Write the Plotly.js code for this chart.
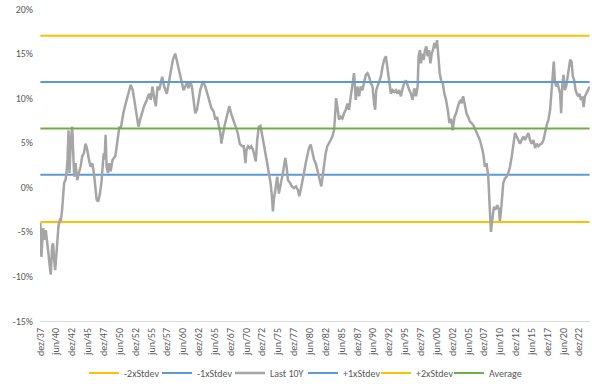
<!DOCTYPE html>
<html>
<head>
<meta charset="utf-8">
<script src="https://cdn.plot.ly/plotly-3.0.1.min.js"></script>
<style>html,body{margin:0;padding:0;background:#fff;}#chart{width:600px;height:387px;}</style>
</head>
<body>
<div id="chart"></div>
<script>
// Time in decimal years (month positions)
const years = [
1937.92,1938.08,1938.35,1938.61,1938.77,1938.98,1939.19,1939.40,1939.56,1939.77,1939.93,1940.09,1940.25,1940.46,1940.61,1940.77,1940.98,
1941.14,1941.35,1941.51,1941.67,1941.88,1942.04,1942.20,1942.36,1942.51,1942.73,1942.94,1943.09,1943.25,1943.46,1943.73,1943.99,
1944.26,1944.52,1944.78,1945.05,1945.31,1945.58,1945.84,1946.10,1946.37,1946.58,1946.79,1947.05,1947.32,1947.58,1947.74,1947.90,
1948.05,1948.21,1948.37,1948.58,1948.79,1949.00,1949.32,1949.74,1949.96,1950.17,1950.38,1950.59,1950.80,1951.01,1951.27,1951.54,
1951.80,1952.17,1952.49,1952.75,1953.02,1953.39,1953.65,1953.91,1954.28,1954.70,1955.07,1955.34,1955.60,1955.87,1956.13,1956.39,
1956.66,1957.13,1957.45,1957.87,1958.29,1958.56,1958.82,1959.19,1959.56,1960.09,
1960.24,1960.51,1960.77,1961.03,1961.30,1961.56,1961.82,1962.09,1962.35,1962.62,1962.88,1963.14,1963.57,1963.94,1964.30,1964.57,
1964.89,1965.25,1965.52,1965.78,1966.05,1966.31,1966.47,1966.68,1966.94,1967.21,1967.47,1967.73,1968.00,1968.32,1968.69,1969.05,
1969.37,1969.74,1970.00,1970.27,1970.43,1970.69,1970.95,1971.17,1971.48,1971.69,1971.90,1972.12,1972.38,1972.64,1972.91,1973.17,
1973.43,1973.70,1973.96,1974.23,1974.44,1974.60,1974.75,1975.02,1975.28,1975.54,1975.81,1976.07,1976.34,1976.55,1976.76,1976.97,
1977.29,1977.60,1977.92,1978.24,1978.55,1978.76,1978.98,1979.24,1979.50,1979.77,1980.03,1980.29,1980.56,1980.82,1981.09,1981.35,
1981.61,1981.88,1982.14,
1982.23,1982.44,1982.66,1982.92,1983.18,1983.45,1983.71,1983.97,1984.24,1984.40,1984.56,1984.77,1985.03,1985.29,1985.56,1985.82,
1986.09,1986.35,1986.61,1986.88,1987.14,1987.40,1987.67,1987.93,1988.20,1988.46,1988.72,1988.99,1989.25,1989.52,1989.78,1990.04,
1990.31,1990.57,1990.73,1990.89,1991.10,1991.36,1991.63,1991.89,1992.15,1992.42,1992.68,1992.95,1993.21,1993.47,1993.74,1994.00,
1994.27,1994.53,1994.79,1995.06,1995.32,1995.58,1995.85,1996.11,1996.38,1996.64,1996.90,1997.17,1997.43,1997.59,1997.80,1997.96,
1998.17,1998.38,1998.59,1998.80,1999.01,1999.23,1999.44,1999.65,1999.86,2000.07,2000.33,2000.49,2000.70,2000.91,2001.13,2001.39,
2001.65,2001.92,2002.18,2002.44,2002.71,2002.97,2003.24,2003.50,2003.76,2004.03,2004.29,
2004.35,2004.61,2004.87,2005.14,2005.40,2005.66,2005.93,2006.19,2006.46,2006.72,2006.98,2007.25,2007.51,2007.78,2008.04,2008.30,
2008.57,2008.72,2008.88,2008.99,2009.20,2009.46,2009.73,2009.99,2010.26,2010.41,2010.68,2010.94,2011.21,2011.47,2011.73,2012.00,
2012.26,2012.52,2012.79,2013.05,2013.32,2013.58,2013.84,2014.11,2014.37,2014.64,2014.90,2015.16,2015.43,2015.69,2015.96,2016.22,
2016.48,2016.75,2017.01,2017.28,2017.54,2017.80,2018.07,2018.33,2018.49,2018.65,2018.80,2018.91,2019.07,2019.28,2019.49,2019.70,
2019.91,2020.07,2020.23,2020.44,2020.65,2020.86,2021.07,2021.28,2021.50,2021.71,2021.92,2022.13,2022.34,2022.55,2022.76,2022.97,
2023.18,2023.40,2023.61,2023.82,2024.03,2024.24,2024.56
];

// "Last 10Y" values, in percent
const last10Y = [
-4.0,-7.8,-4.6,-5.9,-4.8,-6.6,-7.4,-8.9,-9.8,-6.6,-6.3,-8.1,-9.3,-7.4,-5.9,-4.4,-3.7,
-3.8,-2.5,-1.0,0.5,0.8,1.6,3.1,6.4,1.6,5.3,6.8,3.5,1.2,2.7,0.8,1.6,
2.3,3.5,3.8,4.9,4.2,3.1,2.3,2.7,1.6,0.1,-1.4,-1.6,-0.7,0.8,2.3,3.8,
3.1,5.9,2.3,1.6,2.7,1.8,3.1,3.5,4.6,5.7,6.8,6.6,7.6,8.3,9.1,9.8,
10.5,11.5,10.9,9.8,8.3,6.8,7.6,8.3,9.1,9.8,10.5,9.8,11.3,10.0,9.1,11.3,
10.9,12.4,11.3,10.5,12.0,13.2,14.3,15.0,13.9,12.4,
11.7,10.9,11.3,11.7,11.1,11.9,11.3,9.8,8.3,8.7,9.6,10.9,11.9,11.3,10.4,9.8,
8.9,8.5,7.6,7.9,6.8,6.1,4.9,5.9,6.8,7.6,8.5,9.1,8.3,7.6,6.8,6.1,
4.9,4.6,4.6,2.7,4.2,4.6,4.4,4.6,4.2,3.5,2.9,5.3,6.8,6.9,5.7,4.6,
3.8,2.7,1.6,0.5,-1.0,-2.7,-1.4,0.1,1.2,-0.7,0.5,1.2,2.3,3.3,2.3,0.8,
0.5,0.1,-0.1,0.1,-0.3,-1.0,-0.3,0.5,1.6,2.7,3.5,4.4,4.8,3.8,3.1,2.7,
1.9,1.2,0.5,
0.1,1.2,2.7,3.8,4.6,4.9,5.3,5.7,6.4,7.9,10.0,9.0,7.6,7.9,7.7,8.3,
8.7,9.4,8.7,10.2,11.7,12.8,9.8,11.3,10.2,11.3,10.9,12.0,12.6,12.8,12.4,11.7,
11.3,9.4,8.7,10.9,11.3,12.0,12.4,13.5,14.3,14.7,13.2,11.7,10.5,10.9,10.7,10.9,
10.5,10.9,10.2,11.1,11.7,12.0,11.3,10.9,10.5,9.8,11.1,10.2,11.3,14.7,15.4,13.9,
15.0,14.3,15.4,15.8,14.7,15.4,13.9,15.0,15.4,16.2,15.6,16.5,14.7,12.8,12.0,11.7,
10.5,9.8,8.7,7.2,7.7,6.4,7.9,8.3,9.0,9.6,9.8,
9.4,10.2,9.0,8.3,7.9,7.4,7.2,7.0,6.6,6.2,5.7,5.3,4.6,3.8,2.3,2.7,
1.2,-1.8,-4.0,-5.0,-3.7,-2.2,-2.5,-2.0,-2.5,-3.8,-1.8,0.5,1.0,1.2,1.6,2.3,
3.4,4.9,6.1,5.7,5.3,4.9,5.3,5.7,5.3,5.7,6.1,5.3,4.9,5.3,4.4,4.9,
4.6,4.8,4.9,5.3,6.4,7.0,7.6,8.7,10.2,11.7,13.2,14.1,12.0,11.3,11.7,10.9,
10.5,8.3,11.3,12.6,10.9,11.3,12.4,13.2,14.3,14.1,12.4,12.0,10.9,10.5,10.2,10.5,
9.8,10.2,9.0,10.2,10.5,10.7,11.3
];

// Band levels, in percent
const bandNames  = ["-2xStdev", "-1xStdev", "+1xStdev", "+2xStdev", "Average"];
const bandValues = [-3.9, 1.4, 11.8, 17.0, 6.6];

// Category tick labels (every 30 months)
const tickLabels = ["dez/37","jun/40","dez/42","jun/45","dez/47","jun/50","dez/52","jun/55","dez/57","jun/60",
"dez/62","jun/65","dez/67","jun/70","dez/72","jun/75","dez/77","jun/80","dez/82","jun/85","dez/87","jun/90",
"dez/92","jun/95","dez/97","jun/00","dez/02","jun/05","dez/07","jun/10","dez/12","jun/15","dez/17","jun/20","dez/22"];
const yTicks = [-15, -10, -5, 0, 5, 10, 15, 20];

const tickVals = tickLabels.map((_, i) => 1937 + 11/12 + 2.5 * i);
const x0 = years[0], x1 = years[years.length - 1];

const YELLOW = "#FFC000", BLUE = "#5B9BD5", GRAY = "#A5A5A5", GREEN = "#70AD47";
function band(i, color) {
  return {x: [x0, x1], y: [bandValues[i], bandValues[i]], name: bandNames[i], type: "scatter", mode: "lines",
          line: {color: color, width: 2}, hoverinfo: "skip"};
}

const traces = [
  band(0, YELLOW),
  band(1, BLUE),
  {x: years, y: last10Y, name: "Last 10Y", type: "scatter", mode: "lines", line: {color: GRAY, width: 2.5}},
  band(2, BLUE),
  band(3, YELLOW),
  band(4, GREEN)
];

const FONT = "Carlito, Lato, 'Open Sans', sans-serif";
const layout = {
  width: 600, height: 387,
  margin: {l: 40, r: 10, t: 9, b: 66},
  paper_bgcolor: "#ffffff", plot_bgcolor: "#ffffff",
  font: {family: FONT, size: 10, color: "#595959"},
  xaxis: {
    type: "linear", range: [1937.86, 2024.62], tickmode: "array", tickvals: tickVals, ticktext: tickLabels,
    tickangle: -90, showgrid: false, zeroline: false, showline: true, linecolor: "#D9D9D9", linewidth: 1,
    ticks: "", automargin: false, tickfont: {family: FONT, size: 10, color: "#595959"}, ticklabelstandoff: 2
  },
  yaxis: {
    range: [-15, 20], tickmode: "array", tickvals: yTicks, ticktext: yTicks.map(v => v + "%"),
    showgrid: false, zeroline: false, showline: false, ticks: "", automargin: false,
    tickfont: {family: FONT, size: 10, color: "#595959"}, ticklabelstandoff: 6
  },
  showlegend: true,
  legend: {orientation: "h", xref: "container", x: 0.505, xanchor: "center", yref: "container", y: 0.036, yanchor: "middle",
           font: {family: FONT, size: 10, color: "#595959"}, traceorder: "normal", itemwidth: 30,
           entrywidthmode: "pixels", entrywidth: 28},
};

Plotly.newPlot("chart", traces, layout, {displayModeBar: false, staticPlot: true});
</script>
</body>
</html>
